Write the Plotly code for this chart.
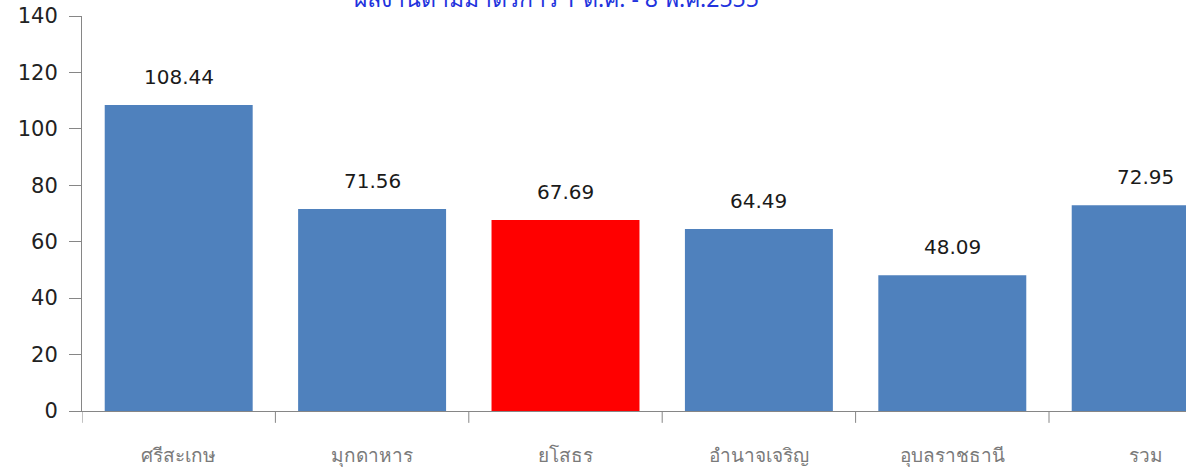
import plotly.graph_objects as go

categories = ["ศรีสะเกษ", "มุกดาหาร", "ยโสธร", "อำนาจเจริญ", "อุบลราชธานี", "รวม"]
values = [108.44, 71.56, 67.69, 64.49, 48.09, 72.95]
label_texts = ["108.44", "71.56", "67.69", "64.49", "48.09", "72.95"]
highlight = "ยโสธร"
y_ticks = [0, 20, 40, 60, 80, 100, 120, 140]
title_text = "ผลงานตามมาตรการ 1 ต.ค. - 8 พ.ค.2555"

colors = ["#FF0000" if c == highlight else "#4F81BD" for c in categories]

W, H = 1186, 470
left, top, bottom = 82, 16, 59
cat_px = 193.4
n_visible = (W - left) / cat_px

fig = go.Figure()
fig.add_trace(go.Bar(
    x=list(range(len(categories))), y=values,
    marker=dict(color=colors, line=dict(width=0)),
    width=0.765,
    hoverinfo="skip",
))

for i, (v, t) in enumerate(zip(values, label_texts)):
    fig.add_annotation(x=i, y=v, xref="x", yref="y", text=t, showarrow=False,
                       yanchor="bottom", yshift=14,
                       font=dict(family="DejaVu Sans, Noto Sans", size=20, color="#1a1a1a"))

fig.add_annotation(x=(556 - left) / (W - left), y=1, xref="paper", yref="paper", text=title_text,
                   showarrow=False, yanchor="bottom", yshift=0,
                   font=dict(family="Noto Sans, DejaVu Sans", size=23, color="#2233DD"))

fig.update_layout(
    width=W, height=H,
    margin=dict(l=left, r=0, t=top, b=bottom, autoexpand=False),
    plot_bgcolor="white", paper_bgcolor="white",
    showlegend=False,
    xaxis=dict(
        range=[-0.5, -0.5 + n_visible], automargin=False,
        tickmode="array", tickvals=list(range(len(categories))), ticktext=categories,
        ticks="", showgrid=False, zeroline=False,
        showline=True, linecolor="#868686", linewidth=1,
        tickfont=dict(family="Noto Sans, DejaVu Sans", size=19, color="#7a7a7a"),
        ticklabelstandoff=27,
    ),
    yaxis=dict(
        range=[0, 140], tickmode="array", tickvals=y_ticks, automargin=False,
        ticks="outside", ticklen=12, tickcolor="#868686",
        showline=True, linecolor="#868686", linewidth=1,
        showgrid=False, zeroline=False,
        tickfont=dict(family="DejaVu Sans", size=21, color="#222222"),
        ticklabelstandoff=7,
    ),
)

# category boundary tick marks on the x-axis
for b in range(len(categories)):
    fig.add_shape(type="line", xref="x", yref="paper", x0=b - 0.5, x1=b - 0.5,
                  y0=0, y1=-0.03, line=dict(color="#868686", width=1))

fig.write_html("out.html", config={"displayModeBar": False},
               post_script="document.body.style.margin='0';document.body.style.overflow='hidden';")
